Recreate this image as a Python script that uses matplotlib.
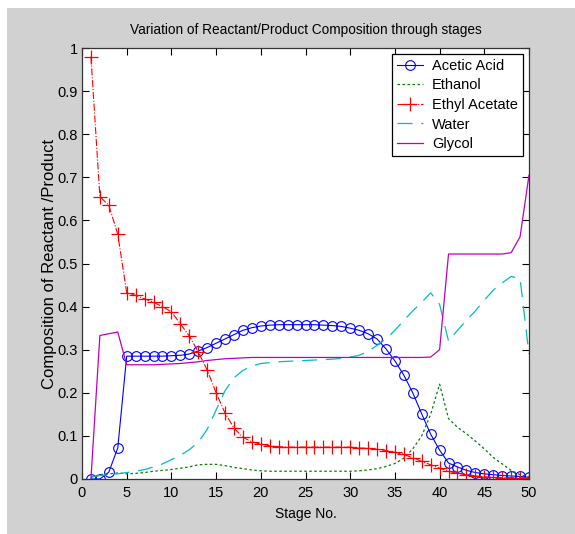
import numpy as np
import matplotlib.pyplot as plt
from matplotlib.patches import Rectangle

plt.rcParams['font.family'] = ['Liberation Sans', 'DejaVu Sans']

stages = np.arange(1, 51)

acetic_acid = [0.0, 0.0, 0.016, 0.072, 0.285, 0.285, 0.285, 0.285, 0.285, 0.286,
               0.287, 0.29, 0.297, 0.305, 0.315, 0.325, 0.335, 0.345, 0.351, 0.355,
               0.357, 0.358, 0.358, 0.358, 0.358, 0.358, 0.357, 0.356, 0.354, 0.35,
               0.345, 0.337, 0.325, 0.302, 0.274, 0.241, 0.2, 0.151, 0.104, 0.067,
               0.037, 0.028, 0.02, 0.015, 0.012, 0.01, 0.008, 0.007, 0.006, 0.004]
ethanol = [0.004, 0.01, 0.012, 0.014, 0.012, 0.013, 0.015, 0.018, 0.02, 0.022,
           0.025, 0.028, 0.033, 0.034, 0.034, 0.031, 0.027, 0.024, 0.021, 0.019,
           0.018, 0.018, 0.018, 0.018, 0.018, 0.018, 0.018, 0.018, 0.018, 0.018,
           0.019, 0.021, 0.024, 0.029, 0.036, 0.048, 0.07, 0.1, 0.15, 0.22,
           0.14, 0.12, 0.105, 0.088, 0.07, 0.05, 0.035, 0.02, 0.01, 0.005]
ethyl_acetate = [0.98, 0.655, 0.635, 0.568, 0.432, 0.426, 0.418, 0.41, 0.4, 0.388,
                 0.36, 0.332, 0.295, 0.253, 0.2, 0.153, 0.118, 0.097, 0.086, 0.081,
                 0.077, 0.075, 0.074, 0.074, 0.074, 0.074, 0.074, 0.074, 0.074, 0.074,
                 0.072, 0.071, 0.069, 0.066, 0.062, 0.057, 0.049, 0.041, 0.033, 0.025,
                 0.018, 0.013, 0.01, 0.007, 0.005, 0.004, 0.003, 0.003, 0.003, 0.003]
water = [0.005, 0.008, 0.01, 0.012, 0.015, 0.018, 0.022, 0.028, 0.035, 0.045,
         0.055, 0.068, 0.085, 0.115, 0.16, 0.205, 0.235, 0.252, 0.262, 0.268,
         0.27, 0.272, 0.273, 0.274, 0.275, 0.276, 0.277, 0.278, 0.28, 0.283,
         0.287, 0.296, 0.31, 0.325, 0.345, 0.368, 0.39, 0.41, 0.432, 0.405,
         0.32, 0.345, 0.368, 0.39, 0.415, 0.438, 0.455, 0.47, 0.465, 0.29]
glycol = [0.0, 0.333, 0.337, 0.341, 0.265, 0.265, 0.265, 0.265, 0.266, 0.267,
          0.268, 0.27, 0.272, 0.275, 0.277, 0.279, 0.28, 0.281, 0.282, 0.282,
          0.282, 0.282, 0.282, 0.282, 0.282, 0.282, 0.282, 0.282, 0.282, 0.282,
          0.282, 0.282, 0.282, 0.282, 0.282, 0.282, 0.282, 0.282, 0.283, 0.3,
          0.522, 0.522, 0.522, 0.522, 0.522, 0.522, 0.522, 0.525, 0.562, 0.705]

gray = '#d1d1d1'
fig = plt.figure(figsize=(5.75, 5.34), dpi=100, facecolor='white')
fig.patches.append(Rectangle((7 / 575, 0), 1, 1 - 8 / 534, transform=fig.transFigure,
                             facecolor=gray, edgecolor='none', zorder=-10))
ax = fig.add_axes([82 / 575, 1 - 479 / 534, 447 / 575, 431 / 534])

ax.plot(stages, acetic_acid, color='#0000ff', lw=0.8, marker='o', ms=7,
        mfc='none', mew=0.8, label='Acetic Acid')
ax.plot(stages, ethanol, color='#008000', lw=0.9, ls=(0, (2, 2)), label='Ethanol')
ax.plot(stages, ethyl_acetate, color='#ff0000', lw=0.8, ls='-.', marker='+', ms=10,
        mew=0.9, label='Ethyl Acetate')
ax.plot(stages, water, color='#00bfbf', lw=0.9, ls=(0, (12, 7)), label='Water')
ax.plot(stages, glycol, color='#bf00bf', lw=0.9, label='Glycol')

ax.set_xlim(0, 50)
ax.set_ylim(0, 1)
ax.set_xticks(np.arange(0, 51, 5))
ax.set_yticks(np.arange(0, 1.01, 0.1))
ax.set_yticklabels(['0', '0.1', '0.2', '0.3', '0.4', '0.5', '0.6', '0.7', '0.8', '0.9', '1'])
ax.tick_params(direction='in', top=True, right=True, length=5, labelsize=10.5)
ax.tick_params(axis='y', pad=3)
ax.tick_params(axis='x', pad=5)
for s in ax.spines.values():
    s.set_linewidth(0.9)
    s.set_color('#333333')

ax.set_title('Variation of Reactant/Product Composition through stages',
             fontsize=9.8, pad=10)
ax.set_xlabel('Stage No.', fontsize=10, labelpad=5)
ax.set_ylabel('Composition of Reactant /Product', fontsize=12, labelpad=0)

leg = ax.legend(loc='upper right', fontsize=10.5, fancybox=False, framealpha=1,
                edgecolor='black', borderaxespad=0.4, handlelength=1.8,
                labelspacing=0.38, borderpad=0.35, handletextpad=0.6)
leg.get_frame().set_linewidth(0.9)

fig.savefig('out.png', dpi=100, facecolor=fig.get_facecolor())
